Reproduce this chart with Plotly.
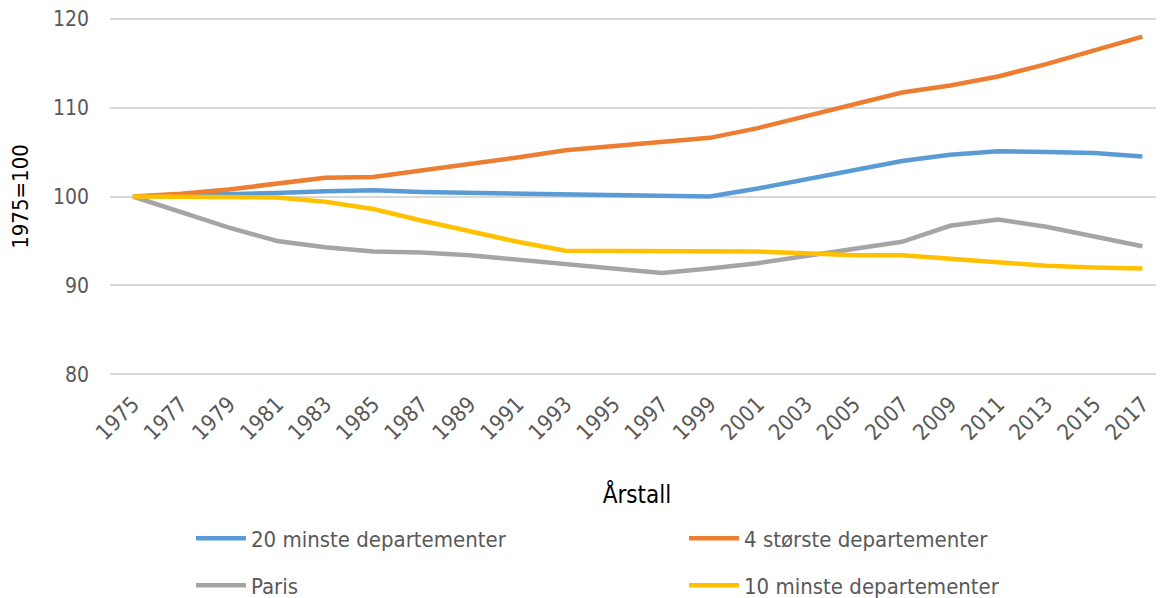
import plotly.graph_objects as go

years = list(range(1975, 2018, 2))

minste20 = [100.0, 100.1, 100.3, 100.4, 100.6, 100.7, 100.5, 100.4, 100.3, 100.2, 100.2,
            100.1, 100.0, 100.9, 101.9, 102.9, 104.0, 104.7, 105.1, 105.0, 104.9, 104.5]
storste4 = [100.0, 100.3, 100.8, 101.4, 102.1, 102.2, 102.9, 103.6, 104.4, 105.2, 105.7,
            106.1, 106.6, 107.7, 109.0, 110.4, 111.7, 112.5, 113.5, 114.9, 116.5, 118.0]
paris = [100.0, 98.2, 96.5, 95.0, 94.3, 93.8, 93.7, 93.4, 92.9, 92.3, 91.8,
         91.4, 91.9, 92.5, 93.3, 94.1, 94.9, 96.7, 97.4, 96.6, 95.5, 94.4]
minste10 = [100.0, 100.0, 100.0, 99.9, 99.4, 98.6, 97.3, 96.1, 94.9, 93.9, 93.9,
            93.9, 93.8, 93.8, 93.6, 93.4, 93.4, 93.0, 92.6, 92.2, 92.0, 91.9]

series = [
    ("20 minste departementer", minste20, "#5B9BD5", "legend"),
    ("4 største departementer", storste4, "#ED7D31", "legend2"),
    ("Paris", paris, "#A5A5A5", "legend3"),
    ("10 minste departementer", minste10, "#FFC000", "legend4"),
]

font = "DejaVu Sans Condensed, Liberation Sans Narrow, Noto Sans, sans-serif"

fig = go.Figure()
for name, vals, color, leg in series:
    fig.add_trace(go.Scatter(
        x=years, y=vals, name=name, mode="lines",
        line=dict(color=color, width=4.5),
        legend=leg,
    ))

leg = dict(
    orientation="h",
    xanchor="left", yanchor="middle",
    font=dict(family=font, size=22, color="#595959"),
    bgcolor="rgba(0,0,0,0)",
    itemwidth=50,
)
col1, col2 = 0.0768, 0.5446
row1, row2 = -0.4525, -0.5835

# page body has an 8px margin, so the figure is 8px smaller than the window.
# y range padded a little so the 80/120 gridlines aren't clipped at the edges
fig.update_layout(
    width=1156, height=590,
    margin=dict(l=102, r=0, t=9.2, b=222.2, autoexpand=False),
    paper_bgcolor="white", plot_bgcolor="white",
    font=dict(family=font, color="#595959"),
    showlegend=True,
    legend=dict(leg, x=col1, y=row1),
    legend2=dict(leg, x=col2, y=row1),
    legend3=dict(leg, x=col1, y=row2),
    legend4=dict(leg, x=col2, y=row2),
    xaxis=dict(
        range=[1974.05, 2017.9],
        tickvals=years,
        tickangle=-45,
        tickfont=dict(size=22, color="#595959"),
        ticklabelstandoff=10,
        showgrid=False, zeroline=False, showline=False,
        automargin=False,
        title=dict(text="Årstall", font=dict(size=24, color="#000000"), standoff=42),
    ),
    yaxis=dict(
        range=[79.8, 120.2],
        tickvals=[80, 90, 100, 110, 120],
        tickfont=dict(size=21, color="#595959"),
        ticklabeloverflow="allow",
        showgrid=True, gridcolor="#D9D9D9", gridwidth=1.5,
        zeroline=False, showline=False,
        ticklabelstandoff=20,
        automargin=False,
        title=dict(text="1975=100", font=dict(size=22, color="#000000"), standoff=24),
    ),
)

fig.write_html("out.html")
